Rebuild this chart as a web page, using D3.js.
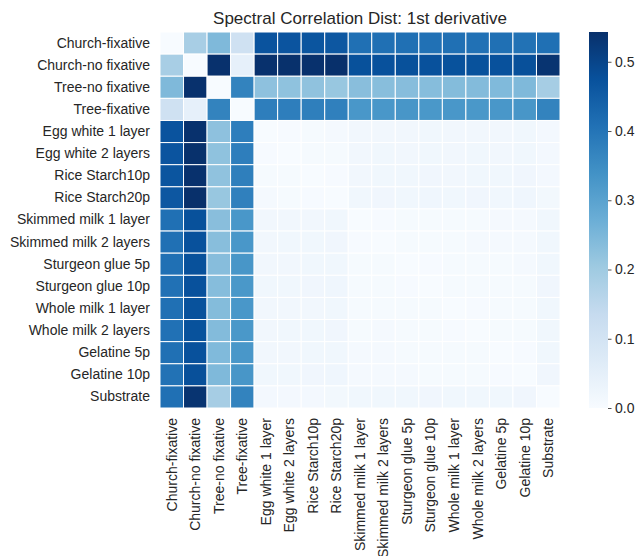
<!DOCTYPE html>
<html>
<head>
<meta charset="utf-8">
<script src="https://cdn.jsdelivr.net/npm/d3@7"></script>
<style>
  html, body { margin: 0; padding: 0; background: #ffffff; }
  svg { display: block; font-family: "Liberation Sans", Arial, sans-serif; }
</style>
</head>
<body>
<svg id="chart" width="640" height="556"></svg>
<script>
// Sample names, shared by rows and columns of the distance matrix
const labels = [
  "Church-fixative", "Church-no fixative", "Tree-no fixative", "Tree-fixative",
  "Egg white 1 layer", "Egg white 2 layers", "Rice Starch10p", "Rice Starch20p",
  "Skimmed milk 1 layer", "Skimmed milk 2 layers", "Sturgeon glue 5p", "Sturgeon glue 10p",
  "Whole milk 1 layer", "Whole milk 2 layers", "Gelatine 5p", "Gelatine 10p", "Substrate"
];

// Correlation distance of the 1st-derivative spectra, one row per sample
const rowChurchFix   = [0, 0.186, 0.245, 0.110, 0.470, 0.468, 0.466, 0.462, 0.410, 0.409, 0.410, 0.408, 0.409, 0.408, 0.409, 0.406, 0.410];
const rowChurchNoFix = [0.186, 0, 0.540, 0.046, 0.540, 0.541, 0.540, 0.543, 0.476, 0.475, 0.476, 0.475, 0.474, 0.474, 0.475, 0.478, 0.535];
const rowTreeNoFix   = [0.245, 0.540, 0, 0.370, 0.225, 0.224, 0.222, 0.212, 0.232, 0.233, 0.234, 0.236, 0.238, 0.240, 0.243, 0.245, 0.190];
const rowTreeFix     = [0.110, 0.046, 0.370, 0, 0.380, 0.381, 0.378, 0.377, 0.328, 0.327, 0.329, 0.326, 0.327, 0.326, 0.328, 0.330, 0.370];
const rowEgg1        = [0.470, 0.540, 0.225, 0.380, 0, 0.004, 0.006, 0.008, 0.015, 0.017, 0.016, 0.018, 0.015, 0.017, 0.016, 0.018, 0.011];
const rowEgg2        = [0.468, 0.541, 0.224, 0.381, 0.004, 0, 0.005, 0.006, 0.016, 0.018, 0.017, 0.019, 0.016, 0.018, 0.017, 0.019, 0.012];
const rowRice10      = [0.466, 0.540, 0.222, 0.378, 0.006, 0.005, 0, 0.004, 0.017, 0.019, 0.018, 0.020, 0.017, 0.019, 0.018, 0.020, 0.012];
const rowRice20      = [0.462, 0.543, 0.212, 0.377, 0.008, 0.006, 0.004, 0, 0.018, 0.020, 0.019, 0.021, 0.018, 0.020, 0.019, 0.021, 0.013];
const rowSkim1       = [0.410, 0.476, 0.232, 0.328, 0.015, 0.016, 0.017, 0.018, 0, 0.004, 0.005, 0.006, 0.005, 0.006, 0.007, 0.008, 0.018];
const rowSkim2       = [0.409, 0.475, 0.233, 0.327, 0.017, 0.018, 0.019, 0.020, 0.004, 0, 0.005, 0.006, 0.006, 0.007, 0.007, 0.008, 0.019];
const rowSturg5      = [0.410, 0.476, 0.234, 0.329, 0.016, 0.017, 0.018, 0.019, 0.005, 0.005, 0, 0.004, 0.005, 0.006, 0.006, 0.007, 0.018];
const rowSturg10     = [0.408, 0.475, 0.236, 0.326, 0.018, 0.019, 0.020, 0.021, 0.006, 0.006, 0.004, 0, 0.005, 0.005, 0.006, 0.006, 0.020];
const rowWhole1      = [0.409, 0.474, 0.238, 0.327, 0.015, 0.016, 0.017, 0.018, 0.005, 0.006, 0.005, 0.005, 0, 0.004, 0.005, 0.006, 0.018];
const rowWhole2      = [0.408, 0.474, 0.240, 0.326, 0.017, 0.018, 0.019, 0.020, 0.006, 0.007, 0.006, 0.005, 0.004, 0, 0.005, 0.005, 0.019];
const rowGel5        = [0.409, 0.475, 0.243, 0.328, 0.016, 0.017, 0.018, 0.019, 0.007, 0.007, 0.006, 0.006, 0.005, 0.005, 0, 0.004, 0.019];
const rowGel10       = [0.406, 0.478, 0.245, 0.330, 0.018, 0.019, 0.020, 0.021, 0.008, 0.008, 0.007, 0.006, 0.006, 0.005, 0.004, 0, 0.020];
const rowSubstrate   = [0.410, 0.535, 0.190, 0.370, 0.011, 0.012, 0.012, 0.013, 0.018, 0.019, 0.018, 0.020, 0.018, 0.019, 0.019, 0.020, 0];

const matrix = [
  rowChurchFix, rowChurchNoFix, rowTreeNoFix, rowTreeFix, rowEgg1, rowEgg2, rowRice10, rowRice20,
  rowSkim1, rowSkim2, rowSturg5, rowSturg10, rowWhole1, rowWhole2, rowGel5, rowGel10, rowSubstrate
];

const colorbarTicks = [0.0, 0.1, 0.2, 0.3, 0.4, 0.5];
const titleText = "Spectral Correlation Dist: 1st derivative";

// Sequential "Blues" palette stops
const bluesStops = ["#f7fbff", "#deebf7", "#c6dbef", "#9ecae1", "#6baed6", "#4292c6", "#2171b5", "#08519c", "#08306b"];

const svg = d3.select("#chart");
const textColor = "#262626";

const plot = { left: 160, right: 560, top: 32, bottom: 408 };

const x = d3.scaleBand().domain(labels).range([plot.left, plot.right]).padding(0);
const y = d3.scaleBand().domain(labels).range([plot.top, plot.bottom]).padding(0);

const vmax = d3.max(matrix, r => d3.max(r));
const color = d3.scaleLinear()
  .domain(bluesStops.map((_, i) => vmax * i / (bluesStops.length - 1)))
  .range(bluesStops)
  .interpolate(d3.interpolateRgb)
  .clamp(true);

const cells = [];
matrix.forEach((row, i) => row.forEach((v, j) => cells.push({ r: labels[i], c: labels[j], v })));

svg.append("g")
  .selectAll("rect")
  .data(cells)
  .join("rect")
  .attr("x", d => x(d.c))
  .attr("y", d => y(d.r))
  .attr("width", x.bandwidth())
  .attr("height", y.bandwidth())
  .attr("fill", d => color(d.v))
  .attr("stroke", "#ffffff")
  .attr("stroke-width", 1);

// Row labels
const yAxis = svg.append("g")
  .attr("transform", `translate(${plot.left},0)`)
  .call(d3.axisLeft(y).tickSize(0).tickPadding(10));
yAxis.select(".domain").remove();
yAxis.selectAll("text")
  .attr("fill", textColor)
  .style("font-size", "14px")
  .style("font-family", "'Liberation Sans', Arial, sans-serif");

// Column labels, rotated
const xAxis = svg.append("g")
  .attr("transform", `translate(0,${plot.bottom})`)
  .call(d3.axisBottom(x).tickSize(0).tickPadding(10));
xAxis.select(".domain").remove();
xAxis.selectAll("text")
  .attr("fill", textColor)
  .style("font-size", "14px")
  .style("font-family", "'Liberation Sans', Arial, sans-serif")
  .attr("text-anchor", "end")
  .attr("transform", "rotate(-90)")
  .attr("x", -10)
  .attr("y", 0)
  .attr("dy", "0.35em");

// Title
svg.append("text")
  .attr("x", (plot.left + plot.right) / 2)
  .attr("y", 24)
  .attr("text-anchor", "middle")
  .attr("fill", textColor)
  .style("font-size", "17px")
  .text(titleText);

// Colour bar
const cb = { left: 589, width: 19 };
const cbScale = d3.scaleLinear().domain([0, vmax]).range([plot.bottom, plot.top]);

const defs = svg.append("defs");
const grad = defs.append("linearGradient")
  .attr("id", "cbGrad")
  .attr("x1", "0").attr("y1", "1").attr("x2", "0").attr("y2", "0");
grad.selectAll("stop")
  .data(bluesStops)
  .join("stop")
  .attr("offset", (_, i) => i / (bluesStops.length - 1))
  .attr("stop-color", d => d);

svg.append("rect")
  .attr("x", cb.left)
  .attr("y", plot.top)
  .attr("width", cb.width)
  .attr("height", plot.bottom - plot.top)
  .attr("fill", "url(#cbGrad)");

const cbAxis = svg.append("g")
  .attr("transform", `translate(${cb.left + cb.width},0)`)
  .call(d3.axisRight(cbScale).tickValues(colorbarTicks).tickFormat(d3.format(".1f")).tickSize(3.5).tickPadding(3.5));
cbAxis.select(".domain").remove();
cbAxis.selectAll("line").attr("stroke", textColor).attr("stroke-width", 0.8);
cbAxis.selectAll("text")
  .attr("fill", textColor)
  .style("font-size", "14px")
  .style("font-family", "'Liberation Sans', Arial, sans-serif");
</script>
</body>
</html>
